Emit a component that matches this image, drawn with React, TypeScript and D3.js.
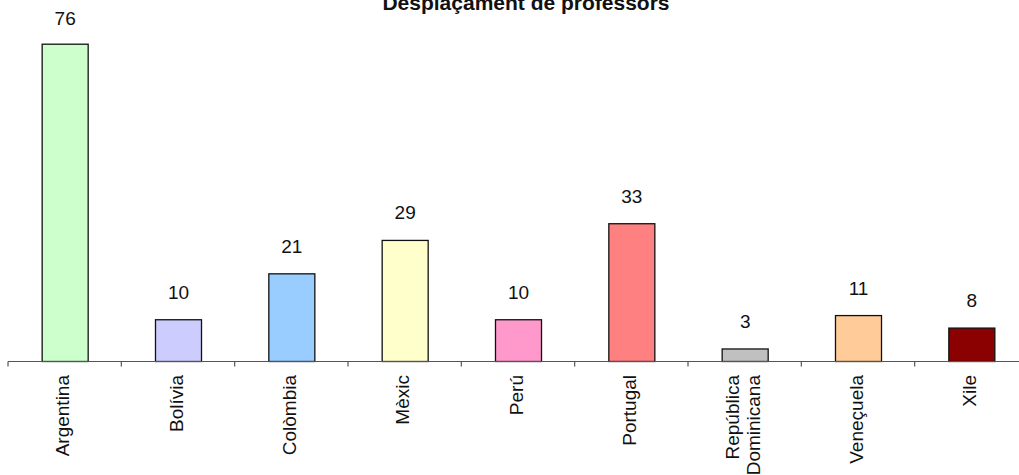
import React from "react";
import * as d3 from "d3";

const categories: string[][] = [
  ["Argentina"],
  ["Bolívia"],
  ["Colòmbia"],
  ["Mèxic"],
  ["Perú"],
  ["Portugal"],
  ["República", "Dominicana"],
  ["Veneçuela"],
  ["Xile"],
];
const values: number[] = [76, 10, 21, 29, 10, 33, 3, 11, 8];
const colors: string[] = [
  "#CCFFCC",
  "#CCCCFF",
  "#99CCFF",
  "#FFFFCC",
  "#FF99CC",
  "#FF8080",
  "#C0C0C0",
  "#FFCC99",
  "#8B0000",
];
const title = "Desplaçament de professors";

const W = 1019;
const H = 475;
const FONT = "'Liberation Sans', Arial, Helvetica, sans-serif";

export default function App() {
  const keys = categories.map((c) => c.join(" "));
  const x = d3
    .scaleBand<string>()
    .domain(keys)
    .range([8, 1028])
    .paddingInner(0.594)
    .paddingOuter(0.297);
  const y = d3.scaleLinear().domain([0, 80]).range([361.5, 27.5]);
  const step = x.step();
  const y0 = y(0);
  const tickXs = keys.map((k) => (x(k) as number) - (step * 0.594) / 2);
  tickXs.push(tickXs[tickXs.length - 1] + step);

  return (
    <div style={{ position: "fixed", left: 0, top: 0, width: W, height: H, background: "#fff" }}>
      <svg width={W} height={H} style={{ display: "block" }} fontFamily={FONT}>
        <rect x={0} y={0} width={W} height={H} fill="#fff" />
        <text x={526} y={9.5} textAnchor="middle" fontSize={21} fontWeight="bold" fill="#111">
          {title}
        </text>
        {keys.map((k, i) => {
          const bx = x(k) as number;
          const by = y(values[i]);
          return (
            <g key={k}>
              <rect
                x={bx + 0.5}
                y={by}
                width={x.bandwidth()}
                height={y0 - by}
                fill={colors[i]}
                stroke="#111"
                strokeWidth={1.3}
              />
              <text
                x={bx + x.bandwidth() / 2 + 0.5}
                y={Math.max(by - 21, 25)}
                textAnchor="middle"
                fontSize={19}
                fill="#111"
              >
                {values[i]}
              </text>
            </g>
          );
        })}
        <line x1={8} x2={W} y1={y0} y2={y0} stroke="#555" strokeWidth={1.2} />
        {tickXs.map((tx, i) => (
          <line key={i} x1={tx} x2={tx} y1={y0} y2={y0 + 5} stroke="#555" strokeWidth={1.2} />
        ))}
        {categories.map((lines, i) => {
          const cx = (x(keys[i]) as number) + x.bandwidth() / 2 + 0.5;
          const n = lines.length;
          return lines.map((ln, j) => {
            const bx = cx + 4 + (j - (n - 1) / 2) * 21;
            return (
              <text
                key={keys[i] + j}
                transform={`translate(${bx},375) rotate(-90)`}
                textAnchor="end"
                fontSize={19}
                fill="#111"
              >
                {ln}
              </text>
            );
          });
        })}
      </svg>
    </div>
  );
}
